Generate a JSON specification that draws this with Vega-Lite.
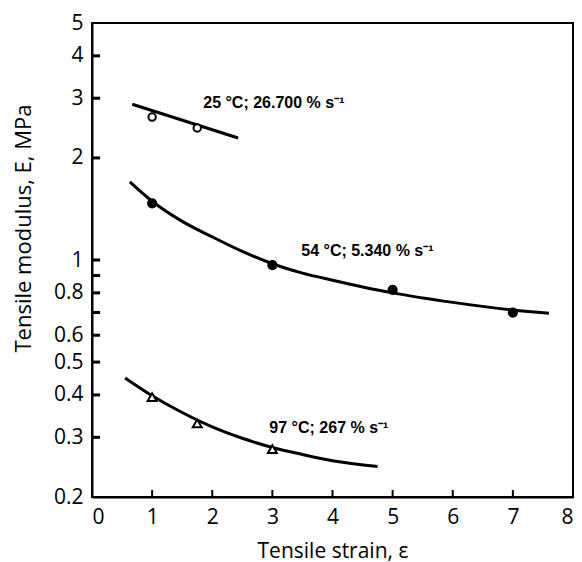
{
  "$schema": "https://vega.github.io/schema/vega-lite/v6.json",
  "autosize": {"type": "none"},
  "padding": {"left": 92, "top": 23, "right": 9, "bottom": 65},
  "width": 481,
  "height": 474,
  "background": "white",
  "config": {
    "view": {"stroke": "black", "strokeWidth": 2},
    "axis": {
      "domainColor": "black", "domainWidth": 2,
      "ticks": false, "grid": false,
      "labelFont": "Open Sans", "labelFontSize": 21, "labelColor": "black",
      "titleFont": "Open Sans", "titleFontSize": 21, "titleFontWeight": "normal", "titleColor": "black"
    }
  },
  "datasets": {
    "curves": [
      {"series": "25", "strain": 0.67, "modulus": 2.88},
      {"series": "25", "strain": 2.43, "modulus": 2.29},
      {"series": "54", "strain": 0.63, "modulus": 1.70},
      {"series": "54", "strain": 1.0, "modulus": 1.49},
      {"series": "54", "strain": 1.5, "modulus": 1.30},
      {"series": "54", "strain": 2.0, "modulus": 1.17},
      {"series": "54", "strain": 2.5, "modulus": 1.06},
      {"series": "54", "strain": 3.0, "modulus": 0.975},
      {"series": "54", "strain": 3.5, "modulus": 0.915},
      {"series": "54", "strain": 4.0, "modulus": 0.872},
      {"series": "54", "strain": 5.0, "modulus": 0.800},
      {"series": "54", "strain": 6.0, "modulus": 0.750},
      {"series": "54", "strain": 7.0, "modulus": 0.712},
      {"series": "54", "strain": 7.6, "modulus": 0.697},
      {"series": "97", "strain": 0.55, "modulus": 0.449},
      {"series": "97", "strain": 1.0, "modulus": 0.398},
      {"series": "97", "strain": 1.5, "modulus": 0.355},
      {"series": "97", "strain": 2.0, "modulus": 0.322},
      {"series": "97", "strain": 2.5, "modulus": 0.298},
      {"series": "97", "strain": 3.0, "modulus": 0.280},
      {"series": "97", "strain": 3.5, "modulus": 0.267},
      {"series": "97", "strain": 4.0, "modulus": 0.256},
      {"series": "97", "strain": 4.75, "modulus": 0.246}
    ],
    "points": [
      {"series": "25", "strain": 1.0, "modulus": 2.64},
      {"series": "25", "strain": 1.75, "modulus": 2.45},
      {"series": "54", "strain": 1.0, "modulus": 1.47},
      {"series": "54", "strain": 3.0, "modulus": 0.966},
      {"series": "54", "strain": 5.0, "modulus": 0.816},
      {"series": "54", "strain": 7.0, "modulus": 0.70},
      {"series": "97", "strain": 1.0, "modulus": 0.394},
      {"series": "97", "strain": 1.75, "modulus": 0.33},
      {"series": "97", "strain": 3.0, "modulus": 0.277}
    ],
    "labels": [
      {"strain": 1.85, "modulus": 2.9, "text": "25 °C; 26.700 % s⁻¹"},
      {"strain": 3.48, "modulus": 1.06, "text": "54 °C; 5.340 % s⁻¹"},
      {"strain": 2.95, "modulus": 0.32, "text": "97 °C; 267 % s⁻¹"}
    ],
    "yticks": [
      {"modulus": 0.3}, {"modulus": 0.4}, {"modulus": 0.5}, {"modulus": 0.6}, {"modulus": 0.7},
      {"modulus": 0.8}, {"modulus": 0.9}, {"modulus": 1}, {"modulus": 2}, {"modulus": 3}, {"modulus": 4}
    ],
    "xticks": [
      {"strain": 1}, {"strain": 2}, {"strain": 3}, {"strain": 4}, {"strain": 5}, {"strain": 6}, {"strain": 7}
    ]
  },
  "layer": [
    {
      "data": {"name": "curves"},
      "mark": {"type": "line", "interpolate": "monotone", "color": "black", "strokeWidth": 3},
      "encoding": {
        "x": {
          "field": "strain", "type": "quantitative",
          "scale": {"domain": [0, 8], "nice": false, "zero": false},
          "axis": {
            "title": "Tensile strain, ε",
            "values": [0, 1, 2, 3, 4, 5, 6, 7, 8],
            "format": "d",
            "labelBaseline": "alphabetic", "labelPadding": 26,
            "titleBaseline": "alphabetic", "titleY": 60
          }
        },
        "y": {
          "field": "modulus", "type": "quantitative",
          "scale": {"type": "log", "domain": [0.2, 5], "nice": false},
          "axis": {
            "title": "Tensile modulus, E, MPa",
            "values": [0.2, 0.3, 0.4, 0.5, 0.6, 0.7, 0.8, 0.9, 1, 2, 3, 4, 5],
            "labelExpr": "datum.value == 0.7 || datum.value == 0.9 ? '' : datum.value",
            "labelPadding": 9,
            "labelBaseline": "middle",
            "titleFontSize": 22,
            "titleBaseline": "alphabetic", "titleX": -62, "titleY": 205
          }
        },
        "detail": {"field": "series"}
      }
    },
    {
      "data": {"name": "yticks"},
      "mark": {"type": "rule", "color": "black", "strokeWidth": 3},
      "encoding": {
        "y": {"field": "modulus", "type": "quantitative"},
        "x": {"datum": 0.001, "type": "quantitative"},
        "x2": {"datum": 0.135}
      }
    },
    {
      "data": {"name": "xticks"},
      "mark": {"type": "rule", "color": "black", "strokeWidth": 2},
      "encoding": {
        "x": {"field": "strain", "type": "quantitative"},
        "y": {"datum": 0.2, "type": "quantitative"},
        "y2": {"datum": 0.2097}
      }
    },
    {
      "data": {"name": "points"},
      "mark": {"type": "point", "stroke": "black", "strokeWidth": 2, "opacity": 1},
      "encoding": {
        "x": {"field": "strain", "type": "quantitative"},
        "y": {"field": "modulus", "type": "quantitative"},
        "shape": {"field": "series", "type": "nominal", "scale": {"domain": ["25", "54", "97"], "range": ["circle", "circle", "triangle-up"]}, "legend": null},
        "fill": {"field": "series", "type": "nominal", "scale": {"domain": ["25", "54", "97"], "range": ["white", "black", "white"]}, "legend": null},
        "size": {"field": "series", "type": "nominal", "scale": {"domain": ["25", "54", "97"], "range": [55, 80, 80]}, "legend": null}
      }
    },
    {
      "data": {"name": "labels"},
      "mark": {"type": "text", "align": "left", "baseline": "middle", "font": "Liberation Sans", "fontWeight": "bold", "fontSize": 16, "color": "black"},
      "encoding": {
        "x": {"field": "strain", "type": "quantitative"},
        "y": {"field": "modulus", "type": "quantitative"},
        "text": {"field": "text"}
      }
    }
  ]
}
